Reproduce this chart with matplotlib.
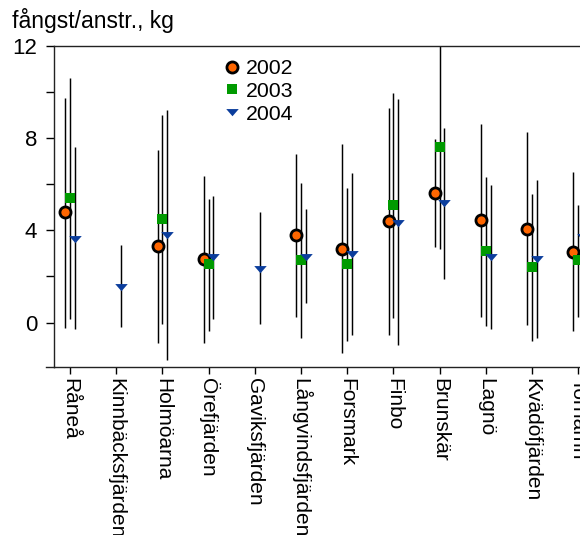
import numpy as np
import matplotlib
matplotlib.use("Agg")
import matplotlib.pyplot as plt
from matplotlib.lines import Line2D

plt.rcParams['font.family'] = ['Liberation Sans', 'DejaVu Sans']

nan = np.nan
sites = ["Råneå", "Kinnbäcksfjärden", "Holmöarna", "Örefjärden", "Gaviksfjärden",
         "Långvindsfjärden", "Forsmark", "Finbo", "Brunskär", "Lagnö",
         "Kvädöfjärden", "Torhamn"]
years = ["2002", "2003", "2004"]

mean_2002 = [4.80, nan, 3.31, 2.76, nan, 3.82, 3.20, 4.41, 5.61, 4.46, 4.07, 3.07]
lo_2002 = [-0.24, nan, -0.89, -0.87, nan, 0.24, -1.33, -0.52, 3.28, 0.26, -0.11, -0.35]
hi_2002 = [9.76, nan, 7.48, 6.36, nan, 7.30, 7.74, 9.33, 7.96, 8.60, 8.29, 6.54]

mean_2003 = [5.41, nan, 4.49, 2.53, nan, 2.71, 2.53, 5.09, 7.61, 3.12, 2.40, 2.72]
lo_2003 = [0.15, nan, -0.04, -0.35, nan, -0.65, -0.78, 0.22, 3.20, -0.14, -0.79, 0.26]
hi_2003 = [10.63, nan, 9.00, 5.35, nan, 6.05, 5.84, 9.95, 13.0, 6.32, 5.58, 5.11]

mean_2004 = [3.63, 1.56, 3.80, 2.84, 2.32, 2.86, 2.97, 4.30, 5.18, 2.84, 2.76, 3.71]
lo_2004 = [-0.26, -0.20, -1.62, 0.17, -0.04, 0.83, -0.52, -0.98, 1.91, -0.26, -0.66, 0.30]
hi_2004 = [7.61, 3.37, 9.24, 5.50, 4.79, 4.92, 6.48, 9.69, 8.46, 5.99, 6.19, 7.00]

# flattened downward triangle
tri = [(-1, 0.55), (1, 0.55), (0, -0.6), (-1, 0.55)]
styles = [
    dict(marker='o', ms=8, mfc='#ff6600', mec='black', mew=2.0),
    dict(marker='s', ms=7.5, mfc='#009a00', mec='#009a00', mew=0),
    dict(marker=tri, ms=9, mfc='#0b3d9c', mec='#0b3d9c', mew=0),
]
series = [(mean_2002, lo_2002, hi_2002),
          (mean_2003, lo_2003, hi_2003),
          (mean_2004, lo_2004, hi_2004)]
offsets = [-0.105, 0.0, 0.105]

fig = plt.figure(figsize=(5.8, 5.35), dpi=100)
ax = fig.add_axes([54 / 580, 1 - 367.3 / 535, 1 - 54 / 580, (367.3 - 46) / 535])

x = np.arange(len(sites))
for (m, lo, hi), off in zip(series, offsets):
    ax.vlines(x + off, lo, hi, color='black', lw=1.05, zorder=2)
for (m, lo, hi), off, st in zip(series, offsets, styles):
    ax.plot(x + off, m, ls='none', zorder=3, **st)

ax.set_xlim(-0.346, 11.04)
ax.set_ylim(-1.94, 12)
ax.set_yticks([0, 4, 8, 12])
ax.set_yticks([2, 6, 10], minor=True)
ax.set_xticks(x)
ax.set_xticklabels(sites, rotation=270, ha='center', va='top')

ax.tick_params(axis='y', which='both', direction='out', length=6, width=1,
               labelsize=16, pad=6)
ax.tick_params(axis='x', direction='out', length=5, width=1, labelsize=15, pad=3)
ax.spines['right'].set_visible(False)
for s in ['left', 'top', 'bottom']:
    ax.spines[s].set_linewidth(1.0)
    ax.spines[s].set_color('#222222')
# short stub of the x axis left of the y axis
ax.plot([-0.015, 0], [0, 0], transform=ax.transAxes, clip_on=False,
        color='#222222', lw=1.0)

fig.text(12 / 580, 1 - 28 / 535, "fångst/anstr., kg", fontsize=16.5,
         ha='left', va='baseline')

handles = [Line2D([], [], ls='none', **st) for st in styles]
ax.legend(handles, years, loc='upper left', frameon=False, fontsize=15.3,
          bbox_to_anchor=(225 / 580, 1 - 59 / 535), bbox_transform=fig.transFigure,
          handlelength=0.7, handletextpad=0.3, labelspacing=0.18,
          borderpad=0, borderaxespad=0)

fig.savefig("out.png", dpi=100)
